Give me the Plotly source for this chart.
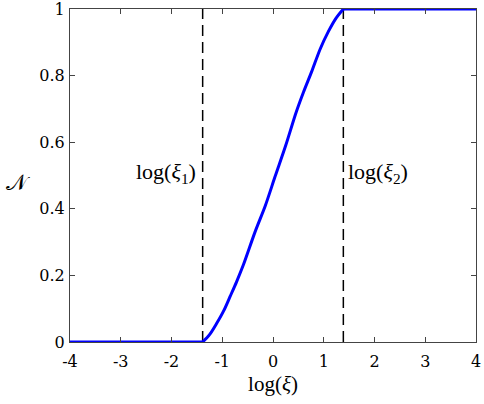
import plotly.graph_objects as go

# curve: log(xi) vs N
log_xi = [-4.0, -1.386, -1.25, -1.109, -0.97, -0.847, -0.72, -0.585, -0.355,
          -0.15, 0.039, 0.25, 0.45, 0.6, 0.762, 0.93, 1.09, 1.24, 1.386, 4.0]
n_vals = [0.0, 0.0, 0.022, 0.056, 0.094, 0.136, 0.18, 0.231, 0.33,
          0.41, 0.496, 0.59, 0.687, 0.75, 0.812, 0.88, 0.932, 0.972, 1.0, 1.0]

# the two thresholds log(xi_1), log(xi_2)
thresholds = [-1.386, 1.386]
threshold_labels = ["log(<i>ξ</i><sub>1</sub>)", "log(<i>ξ</i><sub>2</sub>)"]

x_ticks = [-4, -3, -2, -1, 0, 1, 2, 3, 4]
x_ticktext = ["-4", "-3", "-2", "-1", "0", "1", "2", "3", "4"]
y_ticks = [0, 0.2, 0.4, 0.6, 0.8, 1]
y_ticktext = ["0", "0.2", "0.4", "0.6", "0.8", "1"]

FONT = "Liberation Serif"
TICK_FONT = "DejaVu Serif"

fig = go.Figure()

# dashed threshold lines
for xv in thresholds:
    fig.add_trace(
        go.Scatter(
            x=[xv, xv],
            y=[0, 1],
            mode="lines",
            line=dict(color="black", width=1.5, dash="11px,6px"),
            showlegend=False,
            hoverinfo="skip",
        )
    )

# flat parts straight, the rising part smoothed
segments = [(0, 2, "linear"), (1, 19, "spline"), (18, 20, "linear")]
for start, stop, shape in segments:
    fig.add_trace(
        go.Scatter(
            x=log_xi[start:stop],
            y=n_vals[start:stop],
            mode="lines",
            line=dict(color="#0000ff", width=3, shape=shape, smoothing=0.8),
            showlegend=False,
        )
    )

# threshold labels
fig.add_annotation(x=thresholds[0], y=0.5, xref="x", yref="y", text=threshold_labels[0],
                   showarrow=False, xanchor="right", xshift=-5, yshift=3,
                   font=dict(family=FONT, size=22, color="black"))
fig.add_annotation(x=thresholds[1], y=0.5, xref="x", yref="y", text=threshold_labels[1],
                   showarrow=False, xanchor="left", xshift=3, yshift=3,
                   font=dict(family=FONT, size=22, color="black"))

# y label (not rotated, like the reference)
fig.add_annotation(x=-0.163, y=0.48, xref="paper", yref="paper", text="𝒩",
                   showarrow=False, font=dict(family=FONT, size=22, color="black"))

axis_common = dict(
    showline=True,
    linecolor="#444444",
    linewidth=1,
    mirror="allticks",
    ticks="inside",
    ticklen=5,
    tickcolor="#444444",
    showgrid=False,
    zeroline=False,
    automargin=False,
    ticklabeloverflow="allow",
    tickfont=dict(family=TICK_FONT, size=16, color="black"),
)

fig.update_xaxes(
    range=[-4, 4],
    tickvals=x_ticks,
    ticktext=x_ticktext,
    ticklabelstandoff=5,
    title=dict(text="log(<i>ξ</i>)", font=dict(family=FONT, size=21, color="black"), standoff=6),
    **axis_common,
)
fig.update_yaxes(
    range=[0, 1],
    tickvals=y_ticks,
    ticktext=y_ticktext,
    ticklabelstandoff=1,
    **axis_common,
)

fig.update_layout(
    width=484,
    height=404,
    plot_bgcolor="white",
    paper_bgcolor="white",
    margin=dict(l=70, r=8, t=9, b=62),
    font=dict(family=FONT, size=18, color="black"),
)

# drop the page's default 8px body margin so the figure sits at the corner
fig.write_html(
    "out.html",
    config={"displayModeBar": False},
    post_script="document.body.style.margin='0';",
)
